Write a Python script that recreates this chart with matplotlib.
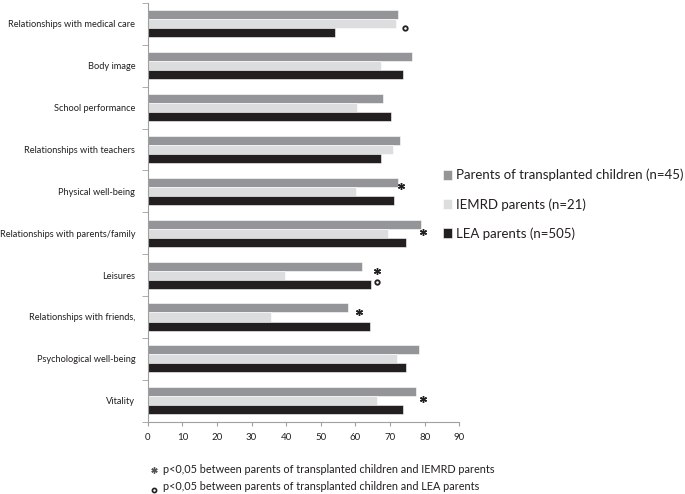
import numpy as np
import matplotlib.pyplot as plt

categories = ['Relationships with medical care', 'Body image', 'School performance',
              'Relationships with teachers', 'Physical well-being',
              'Relationships with parents/family', 'Leisures', 'Relationships with friends,',
              'Psychological well-being', 'Vitality']
transplanted = [72.3, 76.3, 67.9, 73.0, 72.2, 78.8, 61.9, 57.9, 78.3, 77.4]
iemrd = [71.7, 67.3, 60.4, 70.8, 60.1, 69.3, 39.8, 35.5, 71.9, 66.3]
lea = [54.2, 73.8, 70.3, 67.3, 71.2, 74.5, 64.4, 64.3, 74.5, 73.6]
series_labels = ['Parents of transplanted children (n=45)', 'IEMRD parents (n=21)',
                 'LEA parents (n=505)']
# significance markers: (category index, x value, offset from category centre, symbol)
markers = [(0, 74.2, 0.10, 'o'), (4, 73.1, -0.14, '*'), (5, 79.4, -0.03, '*'),
           (6, 66.1, -0.10, '*'), (6, 66.1, 0.17, 'o'), (7, 61.0, -0.13, '*'),
           (9, 79.4, -0.05, '*')]
notes = ['p<0,05 between parents of transplanted children and IEMRD parents',
         'p<0,05 between parents of transplanted children and LEA parents']

colors = ['#939598', '#dcdddf', '#231f20']
plt.rcParams['font.family'] = ['Lato', 'DejaVu Sans']

fig = plt.figure(figsize=(6.85, 4.94), dpi=100)
ax = fig.add_axes([0.2156, 0.1464, 0.4549, 0.8476])

n = len(categories)
y = np.arange(n)
h = 0.215
for k, vals in enumerate([transplanted, iemrd, lea]):
    ax.barh(y + (k - 1) * h, vals, height=h, color=colors[k], edgecolor='white',
            linewidth=0.4, label=series_labels[k])

for ci, xv, off, sym in markers:
    if sym == 'o':
        ax.plot(xv, ci + off, marker='o', ms=3.2, mfc='white', mec='#231f20', mew=1.3,
                clip_on=False)
    else:
        ax.plot(xv, ci + off, marker=(6, 2, 0), ms=5, mec='#231f20', mew=1.0,
                clip_on=False)

ax.set_xlim(0, 90)
ax.set_ylim(n - 0.5, -0.5)
ax.set_xticks(np.arange(0, 91, 10))
ax.set_yticks(y)
ax.set_yticklabels(categories)
ax.set_yticks(np.arange(-0.5, n, 1), minor=True)
ax.tick_params(axis='y', which='major', length=0, pad=9, labelsize=6.7, labelcolor='#231f20')
ax.tick_params(axis='y', which='minor', length=4, color='#a0a0a0', direction='out')
ax.tick_params(axis='x', length=3, color='#a0a0a0', labelsize=7, labelcolor='#231f20', pad=5)
for s in ['top', 'right']:
    ax.spines[s].set_visible(False)
for s in ['left', 'bottom']:
    ax.spines[s].set_color('#a0a0a0')
    ax.spines[s].set_linewidth(0.8)

leg = ax.legend(loc='upper left', bbox_to_anchor=(0.646, 0.658), bbox_transform=fig.transFigure,
                frameon=False, fontsize=9.5, handlelength=0.75, handleheight=0.75,
                handletextpad=0.25, labelspacing=1.25, borderpad=0, borderaxespad=0)
for t in leg.get_texts():
    t.set_color('#231f20')

fig.lines.append(plt.Line2D([0.2245], [1 - 469.5 / 494], marker=(6, 2, 0), ms=4.5, mec='#555555',
                            mew=1.0, transform=fig.transFigure))
fig.text(0.2375, 1 - 469 / 494, notes[0], fontsize=7.8, va='center', color='#231f20')
fig.lines.append(plt.Line2D([0.2245], [1 - 489.5 / 494], marker='o', ms=3, mfc='white',
                            mec='#231f20', mew=1.2, transform=fig.transFigure))
fig.text(0.2375, 1 - 486.5 / 494, notes[1], fontsize=7.8, va='center', color='#231f20')

fig.savefig('out.png', dpi=100)
